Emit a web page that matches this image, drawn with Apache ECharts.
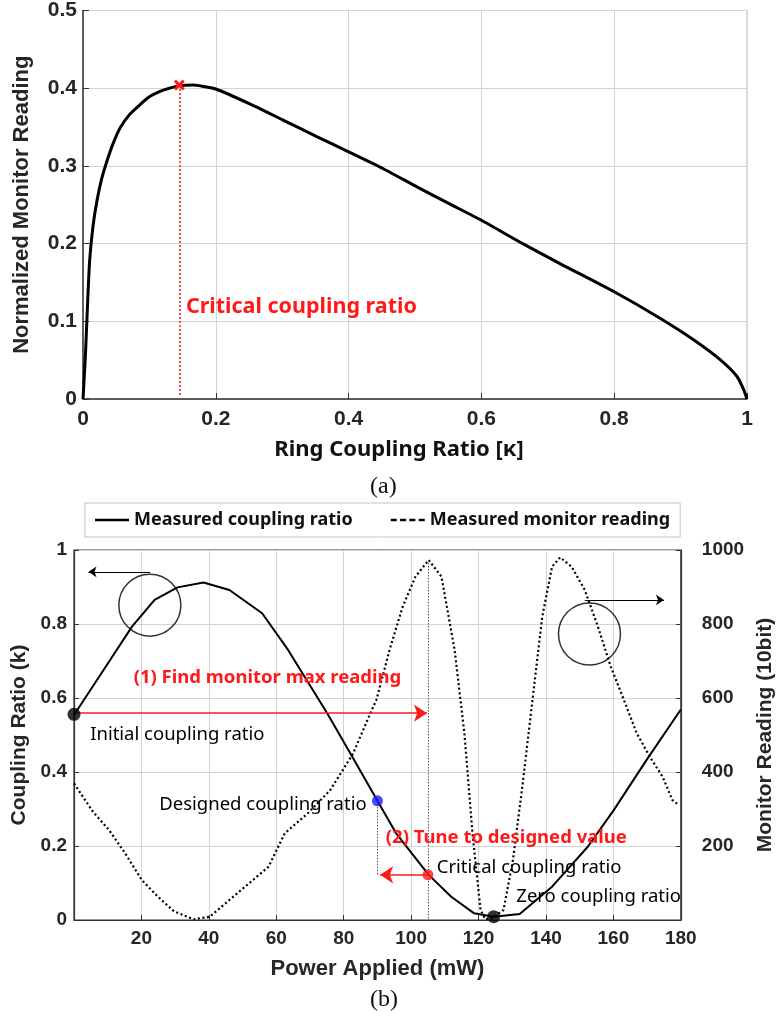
<!DOCTYPE html>
<html>
<head>
<meta charset="utf-8">
<script src="https://cdn.jsdelivr.net/npm/echarts@6/dist/echarts.min.js"></script>
<style>
  html, body { margin: 0; padding: 0; background: #fff; }
  #chart { width: 784px; height: 1020px; }
</style>
</head>
<body>
<div id="chart"></div>
<script>
// (a) normalized monitor reading vs ring coupling ratio
const kappa = [0, 0.002, 0.004, 0.007, 0.01, 0.015, 0.021, 0.028, 0.036, 0.045, 0.056, 0.07, 0.086, 0.1, 0.116, 0.13, 0.145, 0.165, 0.177, 0.2, 0.252, 0.302, 0.352, 0.4, 0.453, 0.503, 0.55, 0.6, 0.66, 0.719, 0.8, 0.869, 0.92, 0.96, 0.985, 0.995, 1];
const monitorNorm = [0, 0.03, 0.063, 0.125, 0.178, 0.222, 0.255, 0.283, 0.306, 0.328, 0.349, 0.366, 0.379, 0.389, 0.396, 0.4, 0.403, 0.404, 0.403, 0.399, 0.3795, 0.3587, 0.3378, 0.318, 0.296, 0.273, 0.252, 0.23, 0.201, 0.174, 0.138, 0.104, 0.076, 0.0504, 0.029, 0.012, 0];
const criticalPoint = [0.145, 0.404];

// (b) measured coupling ratio vs power applied
const powerK = [0, 7.5, 17.2, 23.9, 30.7, 38.4, 46.1, 55.8, 63.5, 70.2, 75.1, 82.8, 90, 95.5, 105.2, 111.9, 118.7, 124.5, 132.2, 141.8, 152.4, 160.1, 169.8, 180];
const couplingK = [0.554, 0.658, 0.793, 0.865, 0.899, 0.912, 0.892, 0.829, 0.73, 0.631, 0.559, 0.437, 0.322, 0.235, 0.122, 0.063, 0.018, 0.009, 0.016, 0.09, 0.198, 0.297, 0.432, 0.569];

// (b) measured monitor reading (10 bit) vs power applied
const powerM = [0, 5.6, 10.4, 15.2, 20.1, 24.9, 29.7, 35.5, 40.3, 46.1, 51.9, 57.7, 62.5, 69.3, 76, 82.8, 87, 89.7, 93.6, 97.5, 101.3, 105.2, 109, 112.9, 115.8, 118.2, 120.6, 122, 124, 127.4, 130.2, 133.1, 136, 138.9, 141.8, 144.2, 147.6, 151.5, 155.4, 159.2, 163.1, 166.9, 170.8, 174.6, 177.5, 179.4];
const monitorRaw = [369, 293, 243, 180, 108, 63, 23, 2, 9, 54, 99, 144, 234, 288, 351, 450, 540, 595, 730, 847, 928, 973, 928, 730, 505, 234, 27, 2, 5, 27, 162, 369, 595, 820, 955, 980, 955, 892, 793, 685, 595, 505, 441, 387, 324, 311];

// highlighted points: initial, designed, critical, zero
const markerPower = [0, 90, 105, 124.5];
const markerRatio = [0.556, 0.322, 0.122, 0.009];
const markerColors = ["#000000", "#1a1aff", "#ff1a1a", "#000000"];

const xTicksTop = [0, 1, 0.2];
const yTicksTop = [0, 0.5, 0.1];

const RED = "#ff1a1a";
const tickFont = { fontFamily: "Liberation Sans", fontWeight: "bold", color: "#262626" };
const noteFont = { fontFamily: "Noto Sans", fontSize: 18.5, color: "#000" };
const redFont = { fontFamily: "Noto Sans", fontSize: 18.5, fontWeight: "bold", color: RED };

const chart = echarts.init(document.getElementById("chart"));

const textPoint = (coord, text, style, position) => ({
  coord: coord,
  symbol: "circle",
  symbolSize: 0,
  label: Object.assign({ show: true, formatter: text, position: position || "right", distance: 0 }, style),
});

const option = {
  animation: false,
  backgroundColor: "#fff",
  grid: [
    { left: 83, top: 9, width: 664, height: 390, show: true, borderColor: "#c4c4c4", borderWidth: 1 },
    { left: 74, top: 550, width: 622, height: 370, show: true, borderColor: "#333", borderWidth: 1.2 },
  ],
  legend: {
    left: 85,
    top: 503,
    padding: [8, 10, 8, 10],
    itemGap: 38,
    itemWidth: 34,
    itemHeight: 14,
    borderColor: "#c4c4c4",
    borderWidth: 1,
    textStyle: { fontFamily: "Noto Sans", fontSize: 18, fontWeight: "bold", color: "#111" },
    data: [
      { name: "Measured coupling ratio", icon: "path://M0,0H34V2.6H0Z", itemStyle: { color: "#000" } },
      {
        name: "Measured monitor reading",
        icon: "path://M0,0h6v2.6h-6z M9.3,0h6v2.6h-6z M18.6,0h6v2.6h-6z M27.9,0h6v2.6h-6z",
        itemStyle: { color: "#000" },
      },
    ],
  },
  xAxis: [
    {
      gridIndex: 0,
      type: "value",
      min: xTicksTop[0],
      max: xTicksTop[1],
      interval: xTicksTop[2],
      name: "Ring Coupling Ratio [\u03ba]",
      nameLocation: "middle",
      nameGap: 40,
      nameTextStyle: { fontFamily: "Noto Sans", fontSize: 22, fontWeight: "bold", color: "#111", padding: [0, 32, 0, 0] },
      axisLine: { lineStyle: { color: "#333", width: 1.5 } },
      axisTick: { inside: true, length: 6, lineStyle: { color: "#333" } },
      axisLabel: Object.assign({ fontSize: 21, margin: 10 }, tickFont),
      splitLine: { lineStyle: { color: "#d4d4d4" } },
    },
    {
      gridIndex: 1,
      type: "value",
      min: 0,
      max: 180,
      interval: 20,
      name: "Power Applied (mW)",
      nameLocation: "middle",
      nameGap: 38,
      nameTextStyle: { fontFamily: "Liberation Sans", fontSize: 22, fontWeight: "bold", color: "#262626" },
      axisLine: { lineStyle: { color: "#333", width: 1.2 } },
      axisTick: { inside: true, length: 5, lineStyle: { color: "#333" } },
      axisLabel: Object.assign({ fontSize: 19, margin: 9, formatter: (v) => (v === 0 ? "" : v) }, tickFont),
      splitLine: { lineStyle: { color: "#d4d4d4" } },
    },
  ],
  yAxis: [
    {
      gridIndex: 0,
      type: "value",
      min: yTicksTop[0],
      max: yTicksTop[1],
      interval: yTicksTop[2],
      name: "Normalized Monitor Reading",
      nameLocation: "middle",
      nameGap: 50,
      nameTextStyle: { fontFamily: "Liberation Sans", fontSize: 22, fontWeight: "bold", color: "#262626" },
      axisLine: { show: true, lineStyle: { color: "#333", width: 1.5 } },
      axisTick: { show: true, inside: true, length: 6, lineStyle: { color: "#333" } },
      axisLabel: Object.assign({ fontSize: 21, margin: 6 }, tickFont),
      splitLine: { lineStyle: { color: "#d4d4d4" } },
    },
    {
      gridIndex: 1,
      type: "value",
      min: 0,
      max: 1,
      interval: 0.2,
      name: "Coupling Ratio (k)",
      nameLocation: "middle",
      nameGap: 40,
      nameTextStyle: { fontFamily: "Liberation Sans", fontSize: 21, fontWeight: "bold", color: "#262626" },
      axisLine: { show: true, lineStyle: { color: "#333", width: 1.2 } },
      axisTick: { show: true, inside: true, length: 5, lineStyle: { color: "#333" } },
      axisLabel: Object.assign({ fontSize: 19, margin: 7 }, tickFont),
      splitLine: { lineStyle: { color: "#d4d4d4" } },
    },
    {
      gridIndex: 1,
      type: "value",
      position: "right",
      min: 0,
      max: 1000,
      interval: 200,
      name: "Monitor Reading (10bit)",
      nameLocation: "middle",
      nameGap: 67,
      nameTextStyle: { fontFamily: "Liberation Sans", fontSize: 21, fontWeight: "bold", color: "#262626" },
      axisLine: { show: true, lineStyle: { color: "#333", width: 1.2 } },
      axisTick: { show: true, inside: true, length: 5, lineStyle: { color: "#333" } },
      axisLabel: Object.assign({ fontSize: 19, margin: 21, formatter: (v) => (v === 0 ? "" : v) }, tickFont),
      splitLine: { show: false },
    },
  ],
  series: [
    {
      name: "Normalized reading",
      type: "line",
      xAxisIndex: 0,
      yAxisIndex: 0,
      symbol: "none",
      smooth: 0.2,
      lineStyle: { color: "#000", width: 3 },
      data: kappa.map((k, i) => [k, monitorNorm[i]]),
      markLine: {
        silent: true,
        symbol: ["none", "none"],
        label: { show: false },
        lineStyle: { color: RED, type: [2, 2], width: 1.5 },
        data: [[{ coord: criticalPoint }, { coord: [criticalPoint[0], 0.005] }]],
      },
      markPoint: {
        silent: true,
        data: [
          textPoint([0.155, 0.1187], "Critical coupling ratio", {
            fontFamily: "Noto Sans", fontSize: 21.5, fontWeight: "bold", color: RED,
          }),
          {
            coord: criticalPoint,
            symbol: "path://M2,0 L5,3 L8,0 L10,2 L7,5 L10,8 L8,10 L5,7 L2,10 L0,8 L3,5 L0,2 Z",
            symbolSize: 11,
            itemStyle: { color: RED },
            label: { show: false },
          },
        ],
      },
    },
    {
      name: "Measured coupling ratio",
      type: "line",
      xAxisIndex: 1,
      yAxisIndex: 1,
      symbol: "none",
      lineStyle: { color: "#000", width: 2 },
      itemStyle: { color: "#000" },
      data: powerK.map((p, i) => [p, couplingK[i]]),
      markLine: {
        silent: true,
        label: { show: false },
        data: [
          [
            { coord: [0, 0.559], symbol: "none", lineStyle: { color: RED, width: 1.5, type: "solid" } },
            { coord: [104.7, 0.559], symbol: "arrow", symbolSize: 13 },
          ],
          [
            { coord: [105, 0.122], symbol: "none", lineStyle: { color: RED, width: 1.5, type: "solid" } },
            { coord: [90.8, 0.122], symbol: "arrow", symbolSize: 13 },
          ],
          [
            { coord: [105.2, 0.973], symbol: "none", lineStyle: { color: "#555", width: 1, type: [1.5, 1.5] } },
            { coord: [105.2, 0.003], symbol: "none" },
          ],
          [
            { coord: [90, 0.322], symbol: "none", lineStyle: { color: "#555", width: 1, type: [1.5, 1.5] } },
            { coord: [90, 0.122], symbol: "none" },
          ],
          [
            { coord: [22.6, 0.941], symbol: "none", lineStyle: { color: "#000", width: 1.2, type: "solid" } },
            { coord: [4.3, 0.941], symbol: "arrow", symbolSize: 8 },
          ],
          [
            { coord: [151.5, 0.865], symbol: "none", lineStyle: { color: "#000", width: 1.2, type: "solid" } },
            { coord: [175, 0.865], symbol: "arrow", symbolSize: 8 },
          ],
        ],
      },
      markPoint: {
        silent: true,
        data: [
          textPoint([17.7, 0.654], "(1) Find monitor max reading", redFont),
          textPoint([4.8, 0.5], "Initial coupling ratio", noteFont),
          textPoint([86.8, 0.311], "Designed coupling ratio", noteFont, "left"),
          textPoint([92.5, 0.221], "(2) Tune to designed value", redFont),
          textPoint([107.6, 0.14], "Critical coupling ratio", noteFont),
          textPoint([131.2, 0.063], "Zero coupling ratio", noteFont),
        ],
      },
    },
    {
      name: "Measured monitor reading",
      type: "line",
      xAxisIndex: 1,
      yAxisIndex: 2,
      symbol: "none",
      lineStyle: { color: "#000", width: 2.2, type: [2, 2.6] },
      itemStyle: { color: "#000" },
      data: powerM.map((p, i) => [p, monitorRaw[i]]),
    },
    {
      name: "callouts",
      type: "scatter",
      xAxisIndex: 1,
      yAxisIndex: 1,
      silent: true,
      symbol: "circle",
      symbolSize: 62,
      itemStyle: { color: "rgba(0,0,0,0)", borderColor: "#000", borderWidth: 1.5 },
      data: [[22.5, 0.851], [152.9, 0.773]],
    },
    {
      name: "markers",
      type: "scatter",
      xAxisIndex: 1,
      yAxisIndex: 1,
      silent: true,
      clip: false,
      z: 5,
      data: markerPower.map((p, i) => ({
        value: [p, markerRatio[i]],
        symbolSize: markerColors[i] === "#000000" ? 13 : 11,
        itemStyle: { color: markerColors[i] },
      })),
    },
  ],
  graphic: [
    { type: "text", left: 370, top: 475, style: { text: "(a)", font: "24px 'Liberation Serif'", fill: "#111" } },
    { type: "text", left: 370, top: 988, style: { text: "(b)", font: "24px 'Liberation Serif'", fill: "#111" } },
  ],
};

chart.setOption(option);
</script>
</body>
</html>
